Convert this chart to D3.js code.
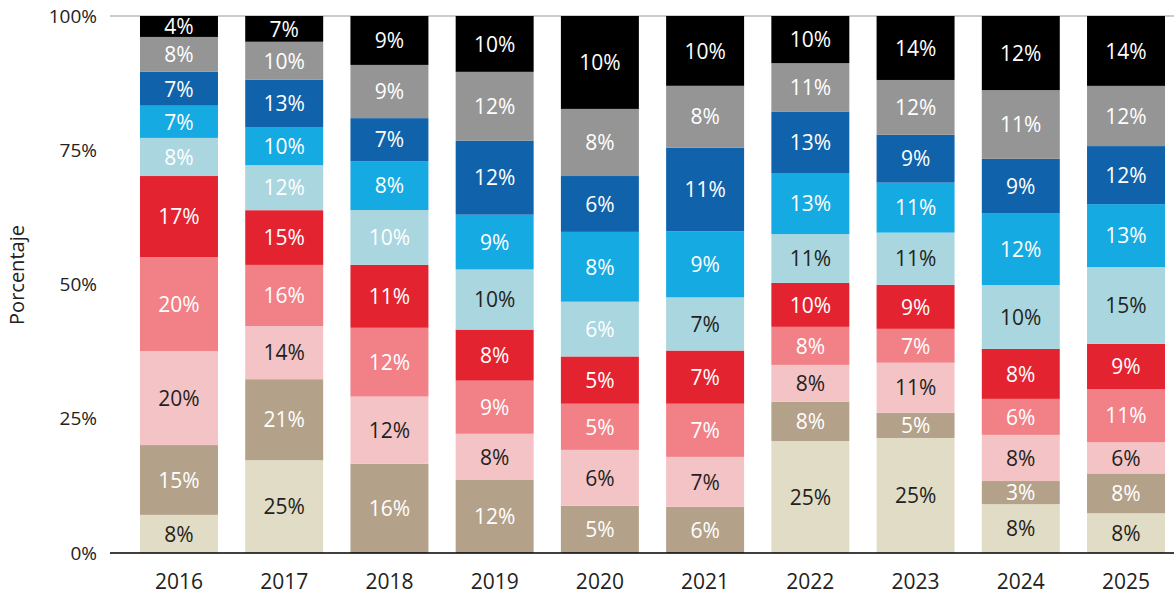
<!DOCTYPE html>
<html>
<head>
<meta charset="utf-8">
<script src="https://cdn.jsdelivr.net/npm/d3@7"></script>
<style>
  body { margin: 0; background: #fff; }
  svg { display: block; font-family: "Open Sans", sans-serif; }
</style>
</head>
<body>
<div id="chart"></div>
<script>
// years on the x axis
const years = ["2016", "2017", "2018", "2019", "2020", "2021", "2022", "2023", "2024", "2025"];

// series, bottom to top of the stack
const seriesKeys = ["beige", "tan", "pink", "salmon", "red", "lightBlue", "skyBlue", "darkBlue", "gray", "black"];

// printed labels (percent)
const labelBeige     = [8, 25, 0, 0, 0, 0, 25, 25, 8, 8];
const labelTan       = [15, 21, 16, 12, 5, 6, 8, 5, 3, 8];
const labelPink      = [20, 14, 12, 8, 6, 7, 8, 11, 8, 6];
const labelSalmon    = [20, 16, 12, 9, 5, 7, 8, 7, 6, 11];
const labelRed       = [17, 15, 11, 8, 5, 7, 10, 9, 8, 9];
const labelLightBlue = [8, 12, 10, 10, 6, 7, 11, 11, 10, 15];
const labelSkyBlue   = [7, 10, 8, 9, 8, 9, 13, 11, 12, 13];
const labelDarkBlue  = [7, 13, 7, 12, 6, 11, 13, 9, 9, 12];
const labelGray      = [8, 10, 9, 12, 8, 8, 11, 12, 11, 12];
const labelBlack     = [4, 7, 9, 10, 10, 10, 10, 14, 12, 14];

// segment shares (percent of bar height) as measured in the picture
const shareBeige     = [7.1, 17.3, 0, 0, 0, 0, 20.9, 21.4, 9.1, 7.4];
const shareTan       = [13.0, 15.1, 16.6, 13.6, 8.8, 8.6, 7.3, 4.7, 4.3, 7.4];
const sharePink      = [17.5, 9.9, 12.5, 8.6, 10.4, 9.3, 6.9, 9.3, 8.6, 5.8];
const shareSalmon    = [17.5, 11.4, 12.8, 9.9, 8.6, 9.9, 7.1, 6.3, 6.7, 9.9];
const shareRed       = [15.1, 10.2, 11.7, 9.5, 8.8, 9.9, 8.2, 8.2, 9.3, 8.4];
const shareLightBlue = [7.1, 8.4, 10.2, 11.2, 10.2, 9.9, 9.1, 9.7, 11.9, 14.3];
const shareSkyBlue   = [6.0, 7.1, 9.1, 10.2, 13.0, 12.3, 11.4, 9.3, 13.4, 11.7];
const shareDarkBlue  = [6.3, 8.8, 8.0, 13.8, 10.4, 15.6, 11.4, 8.9, 10.1, 10.8];
const shareGray      = [6.5, 7.1, 9.9, 12.8, 12.5, 11.5, 9.1, 10.2, 12.8, 11.2];
const shareBlack     = [3.9, 4.8, 9.1, 10.4, 17.3, 13.0, 8.8, 11.9, 13.8, 13.0];

const yTicks = [0, 0.25, 0.5, 0.75, 1];

const labels = [labelBeige, labelTan, labelPink, labelSalmon, labelRed, labelLightBlue, labelSkyBlue, labelDarkBlue, labelGray, labelBlack];
const shares = [shareBeige, shareTan, sharePink, shareSalmon, shareRed, shareLightBlue, shareSkyBlue, shareDarkBlue, shareGray, shareBlack];

const colors = {
    beige: "#e1dcc5", tan: "#b4a189", pink: "#f4c3c6", salmon: "#f18087", red: "#e42330",
    lightBlue: "#aad6df", skyBlue: "#15aae1", darkBlue: "#1062ab", gray: "#959595", black: "#000000"
};
const darkText = "#231f20";
// light blue labels printed in white for these years
const whiteLightBlue = ["2016", "2017", "2018", "2020"];
function textColor(key, year) {
    if (key === "beige" || key === "pink") return darkText;
    if (key === "lightBlue") return whiteLightBlue.includes(year) ? "#ffffff" : darkText;
    return "#ffffff";
}

const width = 1174, height = 596;
const margin = { top: 16, left: 110, bottom: 43 };

// rows for d3.stack
const rows = years.map((y, i) => {
    const row = { year: y };
    seriesKeys.forEach((k, j) => { row[k] = shares[j][i]; row[k + "_label"] = labels[j][i]; });
    return row;
});

const stacked = d3.stack().keys(seriesKeys).offset(d3.stackOffsetExpand)(rows);

const x = d3.scaleBand()
    .domain(years)
    .range([margin.left, 1195])
    .paddingInner(0.259)
    .paddingOuter(0.285);

const y = d3.scaleLinear()
    .domain([0, 1])
    .range([height - margin.bottom, margin.top]);

const svg = d3.select("#chart").append("svg")
    .attr("width", width)
    .attr("height", height);

// 100% line
svg.append("line")
    .attr("x1", margin.left).attr("x2", width)
    .attr("y1", y(1)).attr("y2", y(1))
    .attr("stroke", "#cccccc").attr("stroke-width", 2);

const layers = svg.append("g").selectAll("g")
    .data(stacked)
    .join("g")
    .attr("fill", d => colors[d.key]);

layers.selectAll("rect")
    .data(d => d.map(p => ({ key: d.key, p: p })))
    .join("rect")
    .attr("x", d => x(d.p.data.year))
    .attr("width", x.bandwidth())
    .attr("y", d => y(d.p[1]))
    .attr("height", d => y(d.p[0]) - y(d.p[1]));

// segment labels
svg.append("g").selectAll("g")
    .data(stacked)
    .join("g")
    .selectAll("text")
    .data(d => d.map(p => ({ key: d.key, p: p })).filter(e => e.p.data[e.key + "_label"] > 0))
    .join("text")
    .attr("x", d => x(d.p.data.year) + x.bandwidth() / 2)
    .attr("y", d => (y(d.p[0]) + y(d.p[1])) / 2)
    .attr("dy", "0.37em")
    .attr("text-anchor", "middle")
    .attr("font-size", 21)
    .attr("fill", d => textColor(d.key, d.p.data.year))
    .text(d => d.p.data[d.key + "_label"] + "%");

// y axis
const yAxis = svg.append("g")
    .attr("transform", `translate(${margin.left},0)`)
    .call(d3.axisLeft(y).tickValues(yTicks).tickFormat(d3.format(".0%")).tickSize(0).tickPadding(13));
yAxis.select(".domain").remove();
yAxis.selectAll("text").attr("font-size", 19).attr("fill", "#222222").attr("font-family", "Open Sans, sans-serif");

// x axis
const xAxis = svg.append("g")
    .attr("transform", `translate(0,${y(0)})`)
    .call(d3.axisBottom(x).tickSize(0).tickPadding(21));
xAxis.select(".domain").remove();
xAxis.selectAll("text").attr("font-size", 21).attr("fill", "#222222").attr("font-family", "Open Sans, sans-serif");

svg.append("line")
    .attr("x1", margin.left).attr("x2", width)
    .attr("y1", y(0)).attr("y2", y(0))
    .attr("stroke", "#000000").attr("stroke-width", 1.5);

// y axis title
svg.append("text")
    .attr("transform", "translate(24,275) rotate(-90)")
    .attr("text-anchor", "middle")
    .attr("font-size", 20)
    .attr("fill", "#222222")
    .text("Porcentaje");
</script>
</body>
</html>
